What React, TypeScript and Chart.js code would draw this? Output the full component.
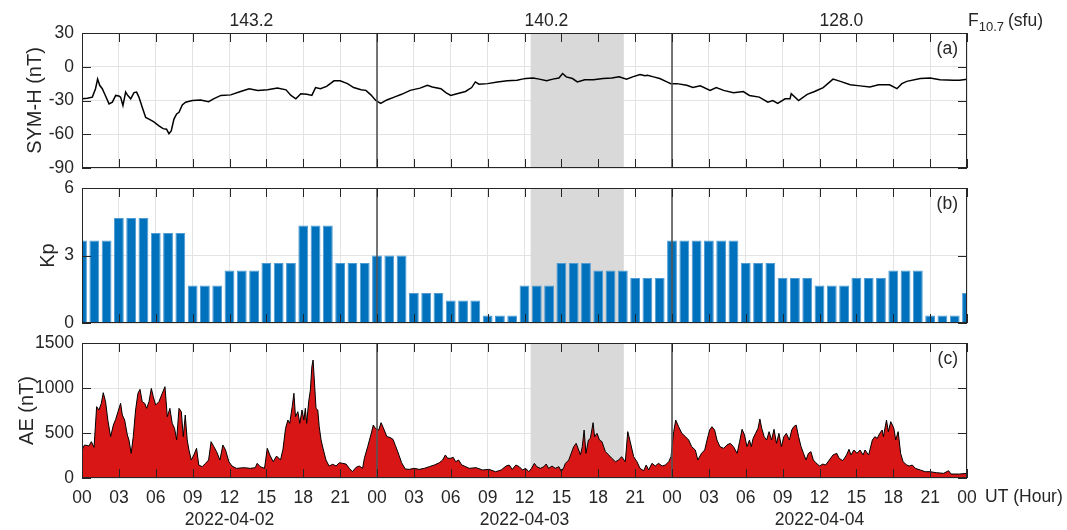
import React, { useEffect, useRef } from 'react';
import { Chart, registerables } from 'chart.js';

Chart.register(...registerables);

const FONT = '"Liberation Sans", Arial, Helvetica, sans-serif';
const INK = '#262626';
const GRID = '#e3e3e3';
const W = 1067;
const H = 530;
const PLOT_LEFT = 82;
const PLOT_RIGHT = 967;

// ---------- data ----------
const symHours = [
  0, 0.43, 0.84, 1.1, 1.27, 1.44, 1.65, 1.9, 2.2, 2.47, 2.74, 3.0, 3.14, 3.33, 3.55, 3.69, 3.96, 4.23, 4.44, 4.63,
  4.9, 5.18, 5.45, 5.85, 6.26, 6.6, 6.88, 7.07, 7.26, 7.48, 7.7, 7.89, 8.16, 8.43, 8.97, 9.65, 10.3, 10.7, 11.3, 12.1,
  12.9, 13.6, 14.3, 15.1, 15.9, 16.6, 17.0, 17.4, 17.8, 18.3, 18.7, 19.0, 19.4, 19.9, 20.5, 21.0, 21.6, 22.1, 22.7, 23.1,
  23.5, 23.9, 24.3, 24.8, 25.4, 26.0, 26.7, 27.5, 28.1, 28.5, 29.2, 29.6, 30.0, 30.5, 31.2, 31.7, 32.0, 32.3, 33.0, 33.8,
  34.6, 35.4, 35.8, 36.1, 36.7, 37.2, 37.8, 38.3, 38.8, 39.1, 39.4, 39.9, 40.3, 40.9, 41.6, 42.4, 43.1, 43.7, 44.3, 44.8,
  45.4, 45.8, 46.0, 46.5, 47.0, 47.5, 47.9, 48.4, 49.2, 49.7, 50.3, 51.1, 51.6, 52.2, 53.0, 53.8, 54.3, 55.1, 55.8, 56.2,
  56.6, 57.2, 57.6, 57.7, 58.3, 59.0, 59.6, 60.3, 61.1, 61.7, 62.5, 63.3, 64.1, 64.8, 65.7, 66.3, 66.7, 67.1, 68.2, 69.0,
  69.8, 70.9, 71.4, 72.0,
];
const symValues = [
  -28.5, -28, -27, -19.5, -11, -16.5, -19.5, -25.5, -33, -31.5, -25.5, -26, -27, -34.5, -22.5, -25, -28.5, -23, -22.5, -27,
  -36, -45, -46.5, -49, -52.5, -55, -55.5, -59.5, -57, -46.5, -42, -40.5, -34, -31.5, -30, -29.5, -31, -28.5, -25.5, -25,
  -22, -19.5, -21, -20.5, -19, -20.5, -25.5, -28.5, -24, -24.5, -25.5, -18.5, -19.5, -17.5, -12.5, -12.5, -15, -18.5, -20.5, -21,
  -25, -30, -32.5, -29.5, -27, -24.5, -21, -19, -16.5, -18, -19.5, -23, -25.5, -24, -22, -18.5, -13.5, -15.5, -15, -13.5,
  -12.5, -12, -11, -10.5, -10, -11, -12.5, -11, -10, -6, -9, -10.5, -13.5, -11.5, -11.5, -10.5, -10, -9, -11, -9,
  -7, -8, -7.5, -9, -10.5, -13, -15, -15, -16.5, -18.5, -17, -21, -18.5, -21, -23, -22, -25.5, -27, -31.5, -30,
  -32.5, -28.5, -28.5, -24, -30, -24.5, -22, -18.5, -11, -13, -16, -17, -18, -16, -16, -19.5, -15, -13, -10.5, -10,
  -11.5, -12, -12, -11,
];

// Kp, one bar per hour (00 .. 72 h), each 3-hour value repeated on its hours
const kpValues = [
  3.67, 3.67, 3.67, 4.67, 4.67, 4.67, 4.0, 4.0, 4.0, 1.67, 1.67, 1.67,
  2.33, 2.33, 2.33, 2.67, 2.67, 2.67, 4.33, 4.33, 4.33, 2.67, 2.67, 2.67,
  3.0, 3.0, 3.0, 1.33, 1.33, 1.33, 1.0, 1.0, 1.0, 0.33, 0.33, 0.33,
  1.67, 1.67, 1.67, 2.67, 2.67, 2.67, 2.33, 2.33, 2.33, 2.0, 2.0, 2.0,
  3.67, 3.67, 3.67, 3.67, 3.67, 3.67, 2.67, 2.67, 2.67, 2.0, 2.0, 2.0,
  1.67, 1.67, 1.67, 2.0, 2.0, 2.0, 2.33, 2.33, 2.33, 0.33, 0.33, 0.33,
  1.33,
];

const aeHours = [
  0, 0.2, 0.57, 0.76, 0.98, 1.19, 1.38, 1.57, 1.73, 1.92, 2.1, 2.33, 2.55, 2.74, 2.93, 3.14, 3.28, 3.47, 3.69, 3.82,
  4.0, 4.17, 4.36, 4.55, 4.72, 4.9, 5.1, 5.26, 5.45, 5.64, 5.8, 5.99, 6.26, 6.53, 6.75, 6.94, 7.15, 7.34, 7.53, 7.7,
  7.89, 8.08, 8.24, 8.4, 8.56, 8.7, 8.89, 9.1, 9.32, 9.5, 9.78, 10.05, 10.3, 10.5, 10.73, 10.95, 11.22, 11.46, 11.68, 11.95,
  12.2, 12.57, 13.17, 13.7, 14.1, 14.25, 14.5, 14.85, 15.07, 15.28, 15.56, 15.83, 16.15, 16.35, 16.56, 16.75, 16.9, 17.1, 17.24, 17.37,
  17.56, 17.72, 17.9, 18.05, 18.17, 18.28, 18.44, 18.58, 18.7, 18.8, 18.9, 19.04, 19.18, 19.3, 19.45, 19.64, 19.85, 20.1, 20.4, 20.67,
  20.94, 21.2, 21.48, 21.75, 22.0, 22.3, 22.56, 22.83, 22.97, 23.24, 23.5, 23.7, 23.86, 24.14, 24.33, 24.5, 24.8, 25.06, 25.3, 25.5,
  25.8, 26.0, 26.3, 26.63, 27.03, 27.44, 27.85, 28.25, 28.66, 29.07, 29.34, 29.56, 29.75, 30.0, 30.2, 30.4, 30.64, 30.9, 31.1, 31.5,
  32.05, 32.6, 33.1, 33.65, 34.1, 34.5, 34.76, 35.0, 35.3, 35.57, 35.84, 36.1, 36.35, 36.57, 36.8, 37.0, 37.3, 37.57, 37.76, 37.97,
  38.24, 38.5, 38.8, 39.0, 39.2, 39.33, 39.6, 39.8, 40.0, 40.2, 40.36, 40.55, 40.7, 40.85, 41.0, 41.2, 41.36, 41.58, 41.7, 41.9,
  42.1, 42.3, 42.58, 42.85, 43.1, 43.4, 43.66, 43.9, 44.2, 44.4, 44.6, 44.88, 45.15, 45.4, 45.7, 45.9, 46.1, 46.37, 46.64, 46.9,
  47.2, 47.46, 47.73, 47.92, 48.14, 48.3, 48.54, 48.8, 49.1, 49.36, 49.6, 49.9, 50.1, 50.4, 50.66, 50.85, 51.06, 51.25, 51.47, 51.66,
  51.9, 52.2, 52.47, 52.74, 53.0, 53.3, 53.5, 53.7, 53.9, 54.1, 54.3, 54.45, 54.6, 54.8, 55.0, 55.15, 55.3, 55.5, 55.7, 55.9,
  56.1, 56.3, 56.5, 56.7, 56.9, 57.1, 57.3, 57.55, 57.74, 57.9, 58.1, 58.3, 58.5, 58.7, 58.9, 59.1, 59.3, 59.5, 59.7, 60.0,
  60.27, 60.5, 60.8, 61.1, 61.4, 61.6, 61.9, 62.2, 62.4, 62.56, 62.8, 63.05, 63.3, 63.55, 63.7, 64.0, 64.3, 64.5, 64.7, 64.9,
  65.1, 65.2, 65.45, 65.6, 65.8, 66.05, 66.2, 66.4, 66.6, 66.8, 67.1, 67.3, 67.55, 67.8, 68.2, 68.6, 69.0, 69.5, 70.1, 70.5,
  70.7, 71.4, 72.0,
];
const aeValues = [
  311, 367, 356, 404, 341, 793, 756, 830, 948, 848, 644, 459, 589, 652, 737, 830, 700, 644, 478, 422,
  274, 459, 756, 941, 985, 848, 830, 774, 848, 996, 904, 811, 848, 941, 1015, 681, 774, 607, 552, 422,
  774, 737, 459, 700, 422, 311, 200, 256, 330, 144, 126, 163, 200, 404, 348, 293, 200, 367, 311, 181,
  133, 107, 115, 107, 115, 163, 126, 107, 330, 256, 181, 244, 200, 320, 552, 644, 607, 793, 941, 681,
  737, 607, 756, 644, 774, 607, 848, 978, 1237, 1311, 1089, 774, 756, 570, 422, 311, 200, 133, 152, 133,
  170, 163, 155, 107, 70, 119, 133, 107, 219, 348, 478, 589, 552, 533, 615, 563, 460, 450, 430, 360,
  250, 170, 100, 96, 107, 96, 107, 126, 144, 170, 200, 256, 219, 219, 230, 181, 200, 144, 133, 107,
  115, 89, 96, 70, 89, 133, 144, 96, 144, 126, 89, 107, 70, 107, 163, 126, 107, 126, 155, 107,
  133, 107, 126, 70, 119, 163, 200, 274, 348, 385, 330, 256, 348, 533, 274, 422, 441, 615, 459, 496,
  422, 404, 293, 256, 219, 181, 200, 237, 181, 515, 404, 237, 181, 107, 81, 144, 89, 163, 133, 163,
  133, 144, 181, 237, 515, 644, 570, 496, 459, 422, 348, 311, 200, 274, 311, 422, 533, 570, 533, 422,
  348, 330, 367, 385, 348, 274, 404, 541, 478, 348, 422, 348, 441, 496, 552, 656, 552, 459, 422, 515,
  422, 541, 385, 496, 348, 459, 496, 422, 533, 570, 589, 459, 348, 274, 200, 274, 293, 200, 170, 133,
  155, 144, 200, 256, 274, 219, 193, 256, 319, 256, 311, 274, 311, 256, 311, 256, 422, 459, 441, 496,
  533, 459, 644, 515, 626, 552, 422, 515, 274, 181, 144, 133, 144, 107, 89, 70, 70, 59, 52, 81,
  44, 44, 52,
];

const f107Labels = ['143.2', '140.2', '128.0'];
const f107Hours = [12, 36, 60];
const dateLabels = ['2022-04-02', '2022-04-03', '2022-04-04'];
const dateHours = [12, 36, 60];
const midnightHours = [24, 48];
const shadeHours = [36.5, 44.08];

type Panel = { top: number; bottom: number };
const panels: Panel[] = [
  { top: 33, bottom: 168 },
  { top: 188, bottom: 323 },
  { top: 343, bottom: 478 },
];

const font = (size: number) => `${size}px ${FONT}`;

function decorPlugin(opts: {
  id: string;
  letter: string;
  title: string;
  titleX: number;
  extra?: (chart: any) => void;
}) {
  return {
    id: opts.id,
    beforeDatasetsDraw(chart: any) {
      const { ctx, chartArea: a, scales } = chart;
      const x = scales.x;
      const x0 = x.getPixelForValue(shadeHours[0]);
      const x1 = x.getPixelForValue(shadeHours[1]);
      ctx.save();
      ctx.fillStyle = '#d9d9d9';
      ctx.fillRect(x0, a.top, x1 - x0, a.bottom - a.top);
      ctx.restore();
    },
    afterDatasetsDraw(chart: any) {
      const { ctx, chartArea: a, scales } = chart;
      const x = scales.x;
      const y = scales.y;
      ctx.save();
      // midnight separators
      ctx.strokeStyle = '#555555';
      ctx.lineWidth = 1.6;
      midnightHours.forEach((h) => {
        const px = x.getPixelForValue(h);
        ctx.beginPath();
        ctx.moveTo(px, a.top);
        ctx.lineTo(px, a.bottom);
        ctx.stroke();
      });
      // inward tick marks
      ctx.strokeStyle = INK;
      ctx.lineWidth = 1;
      const TL = 9;
      x.ticks.forEach((t: any) => {
        const px = Math.round(x.getPixelForValue(t.value)) + 0.5;
        ctx.beginPath();
        ctx.moveTo(px, a.top);
        ctx.lineTo(px, a.top + TL);
        ctx.moveTo(px, a.bottom);
        ctx.lineTo(px, a.bottom - TL);
        ctx.stroke();
      });
      y.ticks.forEach((t: any) => {
        const py = Math.round(y.getPixelForValue(t.value)) + 0.5;
        ctx.beginPath();
        ctx.moveTo(a.left, py);
        ctx.lineTo(a.left + TL, py);
        ctx.moveTo(a.right, py);
        ctx.lineTo(a.right - TL, py);
        ctx.stroke();
      });
      // box
      ctx.strokeRect(Math.round(a.left) + 0.5, Math.round(a.top) + 0.5, Math.round(a.right - a.left) - 1, Math.round(a.bottom - a.top) - 1);
      // panel letter
      ctx.fillStyle = INK;
      ctx.font = font(17.5);
      ctx.textAlign = 'right';
      ctx.textBaseline = 'middle';
      ctx.fillText(opts.letter, a.right - 9, a.top + 16.5);
      // y title
      ctx.save();
      ctx.translate(opts.titleX, (a.top + a.bottom) / 2);
      ctx.rotate(-Math.PI / 2);
      ctx.font = font(20);
      ctx.textAlign = 'center';
      ctx.textBaseline = 'middle';
      ctx.fillText(opts.title, 0, 0);
      ctx.restore();
      if (opts.extra) opts.extra(chart);
      ctx.restore();
    },
  };
}

function baseScales(panel: Panel, showX: boolean, yMin: number, yMax: number, yStep: number) {
  return {
    x: {
      type: 'linear',
      min: 0,
      max: 72,
      offset: false,
      ticks: {
        display: showX,
        stepSize: 3,
        autoSkip: false,
        maxRotation: 0,
        padding: 10,
        color: INK,
        font: { family: FONT, size: 17.5 },
        callback: (v: number) => String(Math.round(v) % 24).padStart(2, '0'),
      },
      grid: { color: GRID, lineWidth: 1, drawTicks: false, offset: false },
      border: { display: false },
      afterFit: (s: any) => {
        s.height = showX ? H - panel.bottom : 0;
      },
    },
    y: {
      type: 'linear',
      position: 'left',
      min: yMin,
      max: yMax,
      ticks: {
        stepSize: yStep,
        padding: 8,
        color: INK,
        font: { family: FONT, size: 17.5 },
        callback: (v: number) => String(v),
      },
      grid: { color: GRID, lineWidth: 1, drawTicks: false },
      border: { display: false },
      afterFit: (s: any) => {
        s.width = PLOT_LEFT;
      },
    },
  };
}

function baseOptions(panel: Panel, showX: boolean, scales: any) {
  return {
    responsive: false,
    animation: false,
    devicePixelRatio: 1,
    events: [],
    layout: {
      padding: { left: 0, right: W - PLOT_RIGHT, top: panel.top, bottom: showX ? 0 : H - panel.bottom },
    },
    plugins: { legend: { display: false }, tooltip: { enabled: false } },
    scales,
  };
}

export default function App() {
  const refA = useRef<HTMLCanvasElement>(null);
  const refB = useRef<HTMLCanvasElement>(null);
  const refC = useRef<HTMLCanvasElement>(null);

  useEffect(() => {
    const topExtra = (chart: any) => {
      const { ctx, scales } = chart;
      const x = scales.x;
      ctx.fillStyle = INK;
      ctx.textBaseline = 'alphabetic';
      ctx.textAlign = 'left';
      ctx.font = font(17.5);
      f107Labels.forEach((t, i) => {
        ctx.fillText(t, x.getPixelForValue(f107Hours[i]), 25.5);
      });
      // F10.7 (sfu)
      let fx = 968;
      ctx.fillText('F', fx, 25.5);
      fx += ctx.measureText('F').width;
      ctx.font = font(13);
      ctx.fillText('10.7', fx, 30.5);
      fx += ctx.measureText('10.7').width + 4;
      ctx.font = font(17.5);
      ctx.fillText('(sfu)', fx, 25.5);
    };
    const bottomExtra = (chart: any) => {
      const { ctx, scales } = chart;
      const x = scales.x;
      ctx.fillStyle = INK;
      ctx.font = font(17.5);
      ctx.textBaseline = 'middle';
      ctx.textAlign = 'center';
      dateLabels.forEach((t, i) => {
        ctx.fillText(t, x.getPixelForValue(dateHours[i]), 520);
      });
      ctx.textAlign = 'left';
      ctx.fillText('UT (Hour)', 985, 497);
    };

    const chartA = new Chart(refA.current as HTMLCanvasElement, {
      type: 'line',
      data: {
        datasets: [
          {
            data: symHours.map((h, i) => ({ x: h, y: symValues[i] })),
            borderColor: '#000000',
            borderWidth: 1.5,
            pointRadius: 0,
            tension: 0,
            fill: false,
          },
        ],
      },
      options: baseOptions(panels[0], false, baseScales(panels[0], false, -90, 30, 30)) as any,
      plugins: [decorPlugin({ id: 'decA', letter: '(a)', title: 'SYM-H (nT)', titleX: 35, extra: topExtra })],
    });

    const chartB = new Chart(refB.current as HTMLCanvasElement, {
      type: 'bar',
      data: {
        datasets: [
          {
            data: kpValues.map((v, i) => ({ x: i, y: v })),
            backgroundColor: '#0072BD',
            borderColor: '#4f9bd3',
            borderWidth: 1,
            barPercentage: 0.8,
            categoryPercentage: 1,
            clip: 0,
          } as any,
        ],
      },
      options: baseOptions(panels[1], false, baseScales(panels[1], false, 0, 6, 3)) as any,
      plugins: [decorPlugin({ id: 'decB', letter: '(b)', title: 'Kp', titleX: 48 })],
    });

    const chartC = new Chart(refC.current as HTMLCanvasElement, {
      type: 'line',
      data: {
        datasets: [
          {
            data: aeHours.map((h, i) => ({ x: h, y: aeValues[i] })),
            borderColor: '#000000',
            borderWidth: 1,
            backgroundColor: '#d91616',
            pointRadius: 0,
            tension: 0,
            fill: 'origin',
          },
        ],
      },
      options: baseOptions(panels[2], true, baseScales(panels[2], true, 0, 1500, 500)) as any,
      plugins: [decorPlugin({ id: 'decC', letter: '(c)', title: 'AE (nT)', titleX: 27, extra: bottomExtra })],
    });

    return () => {
      chartA.destroy();
      chartB.destroy();
      chartC.destroy();
    };
  }, []);

  const cs: React.CSSProperties = { position: 'absolute', left: 0, top: 0, width: W, height: H };
  return (
    <div style={{ position: 'absolute', left: 0, top: 0, width: W, height: H, background: '#ffffff' }}>
      <canvas ref={refA} width={W} height={H} style={cs} />
      <canvas ref={refB} width={W} height={H} style={cs} />
      <canvas ref={refC} width={W} height={H} style={cs} />
    </div>
  );
}
